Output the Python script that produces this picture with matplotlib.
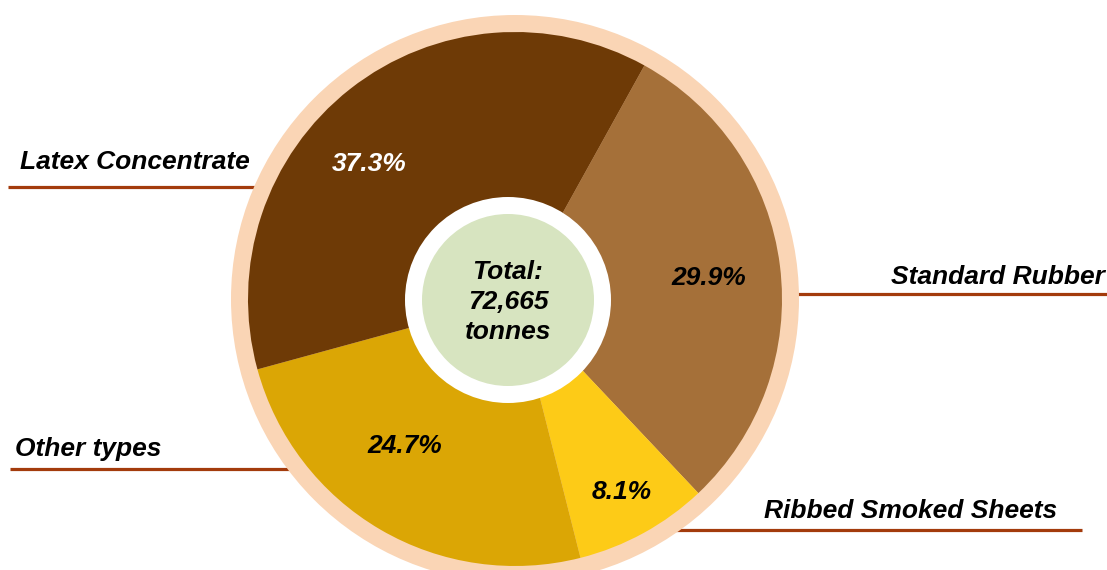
import matplotlib
matplotlib.use("Agg")
import matplotlib.pyplot as plt
from matplotlib.patches import Circle

# data
categories = ["Standard Rubber", "Ribbed Smoked Sheets", "Other types", "Latex Concentrate"]
shares = [29.9, 8.1, 24.7, 37.3]
total_text = "Total:\n72,665\ntonnes"

colors = ["#A57039", "#FDCB17", "#DBA605", "#6E3A06"]
pct_colors = ["black", "black", "black", "white"]

W, H = 1107, 570
def Y(y):
    return H - y

# pixel positions (from top-left) for the labels
pct_pos = [(709, 278), (622, 492), (405, 446), (369, 164)]
label_pos = [(1105, 277, "right"), (1057, 511, "right"), (15, 449, "left"), (20, 162, "left")]
leader = [(790, 1107, 294), (670, 1082, 530), (10, 293, 469), (8, 300, 187)]

font = dict(family="Liberation Sans", weight="bold", style="italic", size=19)

fig = plt.figure(figsize=(W / 100, H / 100), dpi=100)
ax = fig.add_axes([0, 0, 1, 1])

pie_c = (515, Y(299))
ax.add_patch(Circle(pie_c, 284, color="#FAD5B5", zorder=0.5, lw=0))
ax.pie(shares, colors=colors, startangle=61, counterclock=False, radius=267,
       center=pie_c, wedgeprops=dict(linewidth=0))

inner_c = (508, Y(300))
ax.add_patch(Circle(inner_c, 103, color="white", zorder=3, lw=0))
ax.add_patch(Circle(inner_c, 86, color="#D7E4C0", zorder=3.5, lw=0))
ax.text(inner_c[0], inner_c[1] - 2, total_text, ha="center", va="center",
        linespacing=1.3, zorder=5, **font)

for (x, y), s, c in zip(pct_pos, shares, pct_colors):
    ax.text(x, Y(y), f"{s}%", ha="center", va="center", color=c, zorder=5, **font)

for (x, y, ha), name in zip(label_pos, categories):
    ax.text(x, Y(y), name, ha=ha, va="center", color="black", zorder=5, **font)

for x0, x1, y in leader:
    ax.plot([x0, x1], [Y(y), Y(y)], color="#A33B0C", lw=2.3, zorder=0.3,
            solid_capstyle="butt")

ax.set_xlim(0, W)
ax.set_ylim(0, H)
ax.set_aspect("equal")
ax.axis("off")

fig.savefig("out.png", dpi=100)
